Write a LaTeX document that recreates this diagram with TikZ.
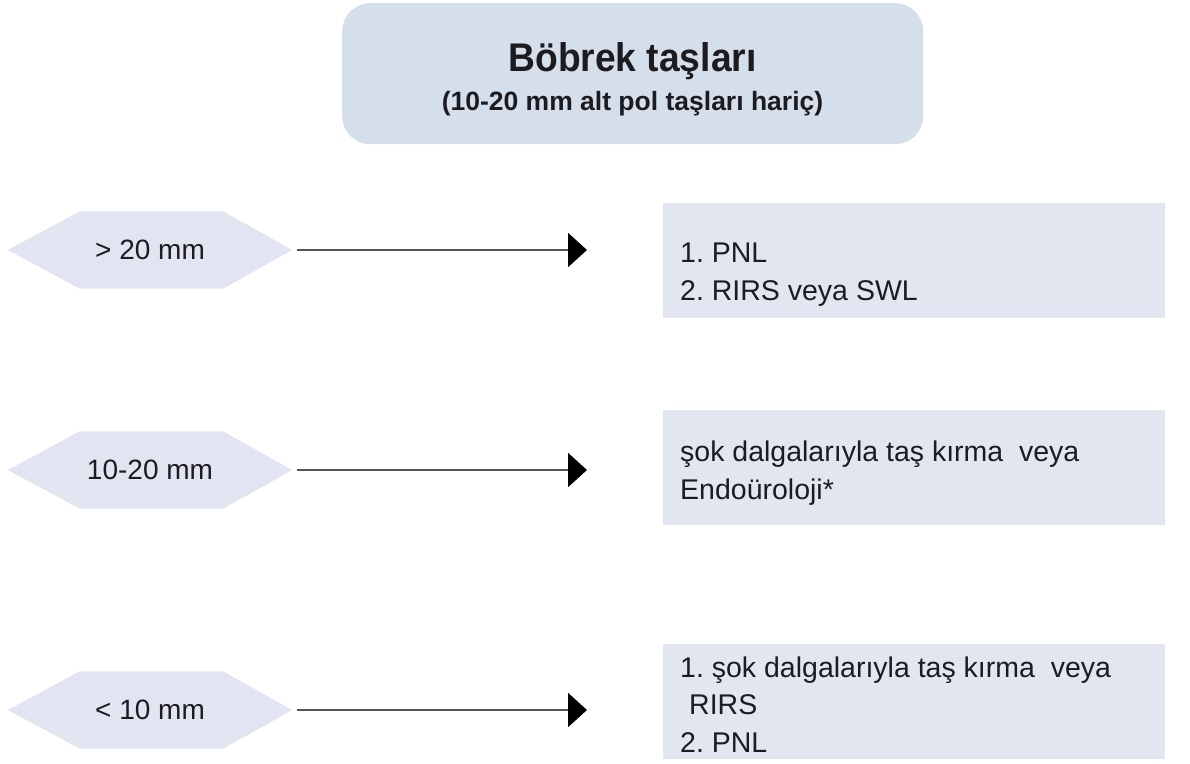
\documentclass[tikz,border=0pt]{standalone}
\usepackage{fontspec}
\setmainfont{Liberation Sans}
\newfontfamily\headfont{Liberation Sans}[FakeStretch=0.93]
\usetikzlibrary{arrows.meta,backgrounds}
\definecolor{titlefill}{RGB}{213,222,235}
\definecolor{hexfill}{RGB}{226,229,241}
\definecolor{boxfill}{RGB}{226,230,240}
\definecolor{ink}{RGB}{28,28,32}
\definecolor{linegray}{RGB}{85,85,85}
\begin{document}
\frenchspacing
\begin{tikzpicture}[x=1pt,y=-1pt,
  titlebox/.style={fill=titlefill, rounded corners=28pt, minimum width=581pt, minimum height=141pt, inner sep=0pt, anchor=north west},
  titletext/.style={anchor=base, inner sep=0pt, text=ink, font=\headfont\fontsize{40}{46}\selectfont\bfseries},
  subtext/.style={anchor=base, inner sep=0pt, text=ink, font=\fontsize{26.5}{32}\selectfont\bfseries},
  sizebox/.style={minimum width=284pt, minimum height=77pt, inner sep=0pt, text=ink, font=\fontsize{28}{34}\selectfont},
  hexshape/.style={fill=hexfill},
  resbox/.style={fill=boxfill, minimum width=502pt, minimum height=115pt, inner sep=0pt, anchor=north west},
  restext/.style={anchor=base west, align=left, inner sep=0pt, text=ink, font=\fontsize{28.5}{37.5}\selectfont},
  conn/.style={draw=linegray, line width=2pt, shorten >=76pt, -{Triangle[length=19pt,width=34pt,color=black]}},
]
\useasboundingbox (0,0) rectangle (1190,763);

% title
\node[titlebox] (title) at (342,3) {};
\node[titletext] (t1) at (632.5,71) {Böbrek taşları};
\node[subtext] (t2) at (632.5,110) {(10-20 mm alt pol taşları hariç)};

% size classes
\node[sizebox] (h1) at (150,250) {> 20 mm};
\node[sizebox] (h2) at (150,470) {10-20 mm};
\node[sizebox] (h3) at (150,710) {< 10 mm};

\begin{scope}[on background layer]
\foreach \h in {h1,h2,h3}{
  \fill[hexshape] (\h.west) -- ([xshift=72pt]\h.north west) -- ([xshift=-69pt]\h.north east)
    -- (\h.east) -- ([xshift=-69pt]\h.south east) -- ([xshift=72pt]\h.south west) -- cycle;
}
\end{scope}

% result boxes
\node[resbox] (b1) at (663,203) {};
\node[resbox] (b2) at (663,410) {};
\node[resbox] (b3) at (663,644) {};

\node[restext] (r1) at (680,300) {1. PNL\\2. RIRS veya SWL};
\node[restext] (r2) at (680,499) {şok dalgalarıyla taş kırma~ veya\\Endoüroloji*};
\node[restext] (r3) at (680,752) {1. şok dalgalarıyla taş kırma~ veya\\\hspace*{9pt}RIRS\\2. PNL};

% connectors
\draw[conn] ([xshift=5pt]h1.east) -- (h1.east -| b1.west);
\draw[conn] ([xshift=5pt]h2.east) -- (h2.east -| b2.west);
\draw[conn] ([xshift=5pt]h3.east) -- (h3.east -| b3.west);
\end{tikzpicture}
\end{document}
